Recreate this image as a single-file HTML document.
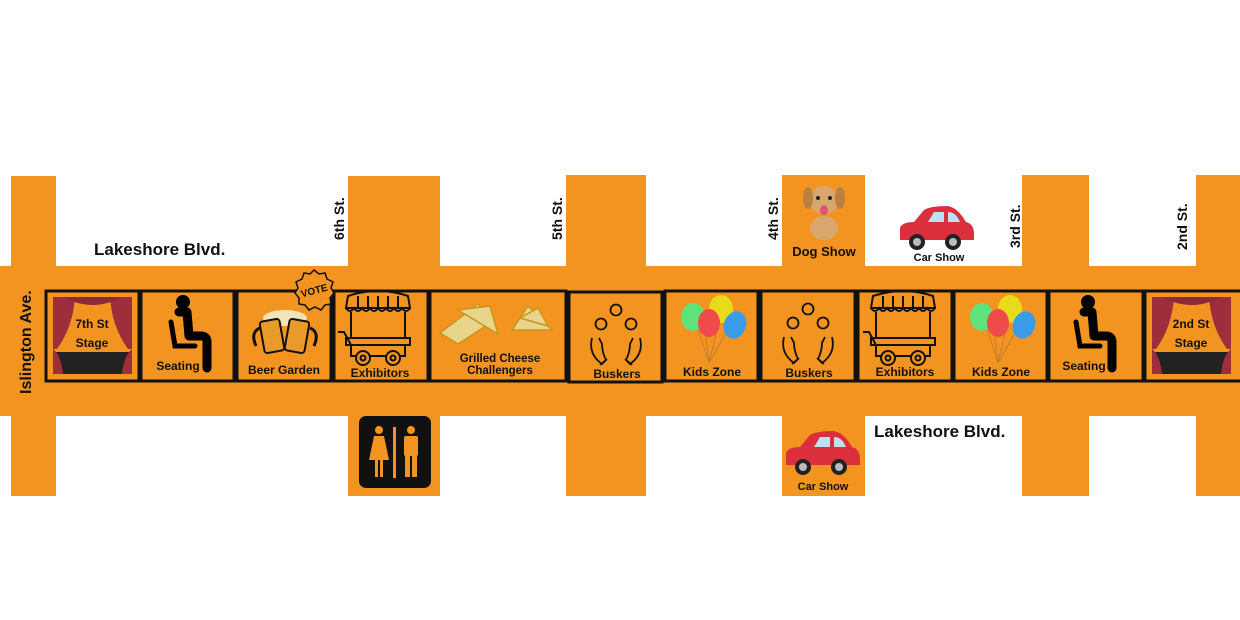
<!DOCTYPE html>
<html><head><meta charset="utf-8"><style>
html,body{margin:0;padding:0;background:#fff;}
svg{display:block;}
text{font-family:"Liberation Sans",sans-serif;font-weight:bold;fill:#111;}
</style></head><body>
<svg width="1240" height="620" viewBox="0 0 1240 620" xmlns="http://www.w3.org/2000/svg">
<defs>
<g id="seat">
<circle cx="0" cy="-26" r="7" fill="#000"/>
<path d="M-4,-16 L4,-16 L6,8 L18,8 Q24,8 24,14 L24,40" stroke="#000" stroke-width="9" fill="none" stroke-linecap="round" stroke-linejoin="round"/>
<path d="M-12,-6 L-8,18 L12,18" stroke="#000" stroke-width="5" fill="none" stroke-linecap="round"/>
</g>
<g id="cart" fill="none" stroke="#111" stroke-width="2">
<path d="M-30,-30 Q0,-40 30,-30 L32,-18 L-32,-18 Z"/>
<path d="M-32,-18 q4,6 8,0 q4,6 8,0 q4,6 8,0 q4,6 8,0 q4,6 8,0 q4,6 8,0 q4,6 8,0 q4,6 8,0"/>
<path d="M-20,-30 L-20,-18 M-10,-30 L-10,-18 M0,-30 L0,-18 M10,-30 L10,-18 M20,-30 L20,-18"/>
<path d="M-27,-14 L-27,12 M27,-14 L27,12"/>
<rect x="-32" y="12" width="64" height="7"/>
<path d="M-40,6 L-34,6 L-27,19 L-27,30 L27,30 L27,19"/>
<circle cx="-15" cy="32" r="7" fill="#f39420"/><circle cx="-15" cy="32" r="2.5"/>
<circle cx="15" cy="32" r="7" fill="#f39420"/><circle cx="15" cy="32" r="2.5"/>
</g>
<g id="busk" fill="none" stroke="#111" stroke-width="1.8">
<circle cx="0" cy="-30" r="5.5"/><circle cx="-15" cy="-16" r="5.5"/><circle cx="15" cy="-16" r="5.5"/>
<path d="M-24,-2 Q-28,14 -14,24 L-10,20 Q-14,12 -14,4 L-17,-2"/>
<path d="M24,-2 Q28,14 14,24 L10,20 Q14,12 14,4 L17,-2"/>
<path d="M-16,25 L-9,19 M16,25 L9,19"/>
</g>
<g id="ball">
<path d="M0,30 L-12,-8 M0,30 L-4,-4 M0,30 L10,-12 M0,30 L18,-2" stroke="#b57a3a" stroke-width="0.8" fill="none"/>
<ellipse cx="-16" cy="-16" rx="12" ry="14" fill="#5fe27a"/>
<ellipse cx="12" cy="-24" rx="12" ry="14" fill="#e8dc1a"/>
<ellipse cx="26" cy="-8" rx="11" ry="14" fill="#3a9be8" transform="rotate(20 26 -8)"/>
<ellipse cx="0" cy="-10" rx="11" ry="14" fill="#ef4b4b"/>
</g>
<g id="stage">
<rect x="0" y="0" width="79" height="77" fill="#f39420"/>
<rect x="0" y="0" width="79" height="5" fill="#8c2a35"/>
<path d="M0,0 L22,0 Q20,30 4,52 L0,52 Z" fill="#9e2e3c"/>
<path d="M79,0 L57,0 Q59,30 75,52 L79,52 Z" fill="#9e2e3c"/>
<path d="M10,0 Q40,16 69,0 Z" fill="#8c2a35"/>
<rect x="0" y="55" width="79" height="22" fill="#222"/>
<path d="M0,52 Q8,58 10,77 L0,77 Z M79,52 Q71,58 69,77 L79,77Z" fill="#9e2e3c"/>
</g>
<g id="car">
<path d="M-36,10 L-36,-2 Q-34,-8 -22,-8 L-12,-20 Q-6,-24 12,-24 Q22,-22 30,-8 Q38,-6 38,4 L38,10 Z" fill="#dc2f3c"/>
<path d="M-8,-8 L-2,-18 L8,-18 L8,-8 Z M12,-8 L12,-18 Q20,-18 24,-8 Z" fill="#bfe0f0"/>
<circle cx="-19" cy="12" r="8" fill="#222"/><circle cx="-19" cy="12" r="4" fill="#bbb"/>
<circle cx="17" cy="12" r="8" fill="#222"/><circle cx="17" cy="12" r="4" fill="#bbb"/>
</g>
</defs>

<!-- roads -->
<g fill="#f39420">
<rect x="0" y="266" width="1240" height="150"/>
<rect x="11" y="176" width="45" height="320"/>
<rect x="348" y="176" width="92" height="320"/>
<rect x="566" y="175" width="80" height="321"/>
<rect x="782" y="175" width="83" height="321"/>
<rect x="1022" y="175" width="67" height="321"/>
<rect x="1196" y="175" width="44" height="321"/>
</g>

<!-- street labels -->
<text x="94" y="255" font-size="17">Lakeshore Blvd.</text>
<text x="874" y="437" font-size="17">Lakeshore Blvd.</text>
<text transform="translate(31,394) rotate(-90)" font-size="16">Islington Ave.</text>
<text transform="translate(344,240) rotate(-90)" font-size="14">6th St.</text>
<text transform="translate(562,240) rotate(-90)" font-size="14">5th St.</text>
<text transform="translate(778,240) rotate(-90)" font-size="14">4th St.</text>
<text transform="translate(1020,248) rotate(-90)" font-size="14">3rd St.</text>
<text transform="translate(1187,250) rotate(-90)" font-size="14">2nd St.</text>

<!-- boxes -->
<g fill="none" stroke="#111" stroke-width="3">
<rect x="46" y="291" width="93" height="90"/>
<rect x="141" y="291" width="93" height="90"/>
<rect x="237" y="291" width="94" height="90"/>
<rect x="334" y="291" width="94" height="90"/>
<rect x="430" y="291" width="136" height="90"/>
<rect x="569" y="292" width="93" height="90"/>
<rect x="665" y="291" width="93" height="90"/>
<rect x="761" y="291" width="94" height="90"/>
<rect x="858" y="291" width="94" height="90"/>
<rect x="954" y="291" width="93" height="90"/>
<rect x="1049" y="291" width="94" height="90"/>
<rect x="1145" y="291" width="97" height="90"/>
</g>

<!-- stages -->
<use href="#stage" x="53" y="297"/>
<text x="92" y="328" font-size="12" text-anchor="middle">7th St</text>
<text x="92" y="347" font-size="12" text-anchor="middle">Stage</text>
<use href="#stage" x="1152" y="297"/>
<text x="1191" y="328" font-size="12" text-anchor="middle">2nd St</text>
<text x="1191" y="347" font-size="12" text-anchor="middle">Stage</text>

<!-- seating -->
<use href="#seat" x="183" y="328"/>
<text x="178" y="370" font-size="12" text-anchor="middle">Seating</text>
<use href="#seat" x="1088" y="328"/>
<text x="1084" y="370" font-size="12" text-anchor="middle">Seating</text>

<!-- beer garden -->
<g>
<ellipse cx="285" cy="318" rx="22" ry="8" fill="#f3e4b8"/>
<rect x="262" y="320" width="20" height="32" rx="3" fill="#e89a2a" stroke="#111" stroke-width="2" transform="rotate(-10 272 336)"/>
<rect x="287" y="320" width="20" height="32" rx="3" fill="#e89a2a" stroke="#111" stroke-width="2" transform="rotate(10 297 336)"/>
<path d="M260,328 Q250,332 256,346 M310,328 Q320,332 314,346" stroke="#111" stroke-width="3" fill="none"/>
</g>
<text x="284" y="374" font-size="12" text-anchor="middle">Beer Garden</text>
<g transform="translate(314,290)">
<polygon points="0,-20 5,-16 11,-17 13,-11 19,-8 17,-2 20,3 16,8 17,14 11,15 7,20 1,17 -5,20 -9,15 -15,14 -15,8 -19,3 -16,-2 -18,-8 -12,-11 -10,-17 -4,-16" fill="#f39420" stroke="#111" stroke-width="1.5"/>
<text x="0" y="4" font-size="10" text-anchor="middle" transform="rotate(-15)">VOTE</text>
</g>

<!-- exhibitors -->
<use href="#cart" x="378" y="326"/>
<text x="380" y="377" font-size="12" text-anchor="middle">Exhibitors</text>
<use href="#cart" x="903" y="326"/>
<text x="905" y="376" font-size="12" text-anchor="middle">Exhibitors</text>

<!-- grilled cheese -->
<g fill="#e8d48a" stroke="#c9941e" stroke-width="1.5">
<polygon points="440,333 478,304 492,322 458,344"/>
<polygon points="458,310 490,306 498,334"/>
<polygon points="512,330 528,306 552,330"/>
<polygon points="520,318 538,308 548,326"/>
</g>
<text x="500" y="362" font-size="11.5" text-anchor="middle">Grilled Cheese</text>
<text x="500" y="374" font-size="11.5" text-anchor="middle">Challengers</text>

<!-- buskers -->
<use href="#busk" x="616" y="340"/>
<text x="617" y="378" font-size="12" text-anchor="middle">Buskers</text>
<use href="#busk" x="808" y="339"/>
<text x="809" y="377" font-size="12" text-anchor="middle">Buskers</text>

<!-- kids zone -->
<use href="#ball" x="709" y="333"/>
<text x="712" y="376" font-size="12" text-anchor="middle">Kids Zone</text>
<use href="#ball" x="998" y="333"/>
<text x="1001" y="376" font-size="12" text-anchor="middle">Kids Zone</text>

<!-- restroom -->
<rect x="359" y="416" width="72" height="72" rx="7" fill="#111"/>
<g fill="#f39420">
<circle cx="379" cy="430" r="4"/>
<polygon points="374,436 384,436 389,460 383,460 383,477 380,477 380,460 378,460 378,477 375,477 375,460 369,460"/>
<rect x="393" y="427" width="3" height="51"/>
<circle cx="411" cy="430" r="4"/>
<rect x="404" y="436" width="14" height="20" rx="2"/>
<rect x="405" y="455" width="5" height="22"/><rect x="412" y="455" width="5" height="22"/>
</g>

<!-- dog show -->
<g>
<ellipse cx="824" cy="228" rx="14" ry="12" fill="#d9a66c"/>
<ellipse cx="824" cy="200" rx="15" ry="14" fill="#d9a66c"/>
<ellipse cx="808" cy="198" rx="5" ry="11" fill="#b98046"/>
<ellipse cx="840" cy="198" rx="5" ry="11" fill="#b98046"/>
<circle cx="818" cy="198" r="2" fill="#222"/><circle cx="830" cy="198" r="2" fill="#222"/>
<ellipse cx="824" cy="210" rx="4" ry="5" fill="#e0557a"/>
</g>
<text x="824" y="256" font-size="13" text-anchor="middle">Dog Show</text>

<!-- car shows -->
<use href="#car" x="936" y="230"/>
<text x="939" y="261" font-size="11" text-anchor="middle">Car Show</text>
<use href="#car" x="822" y="455"/>
<text x="823" y="490" font-size="11" text-anchor="middle">Car Show</text>
</svg>
</body></html>
